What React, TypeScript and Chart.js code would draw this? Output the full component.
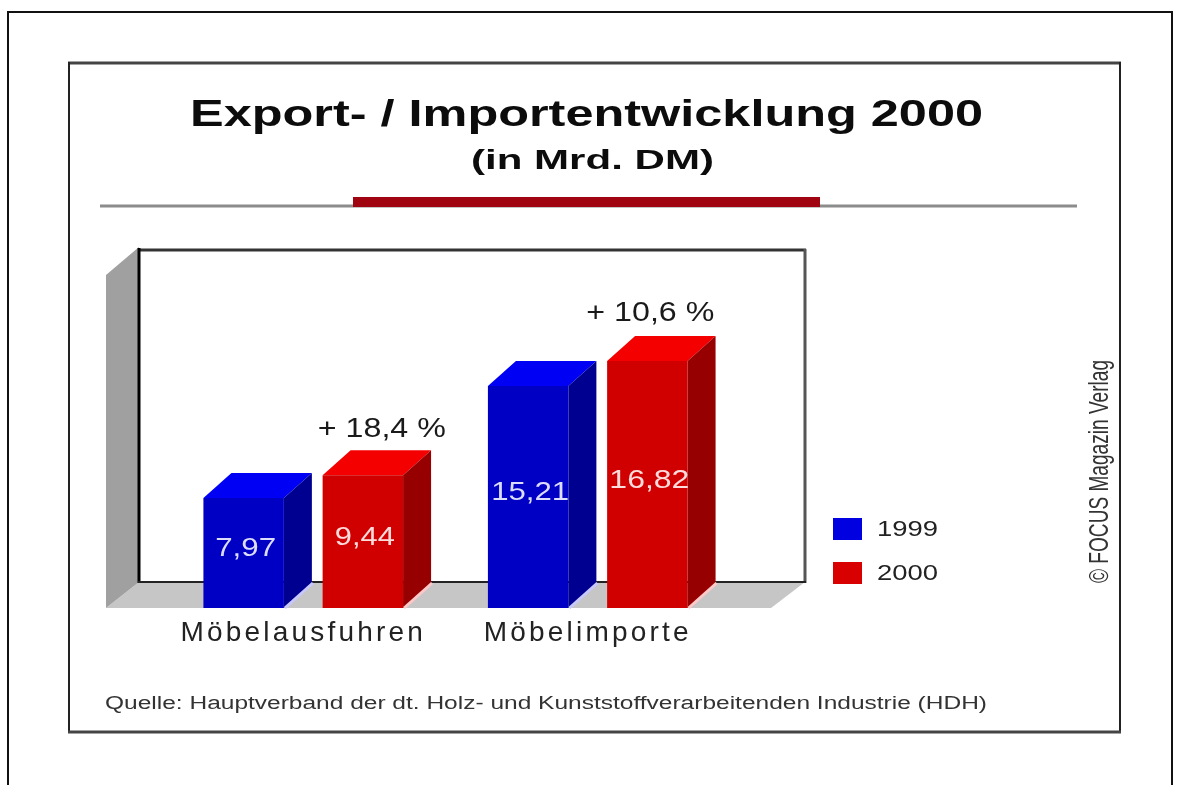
import React, { useEffect, useRef } from "react";
import { Chart, registerables } from "chart.js";

Chart.register(...registerables);

const categories = ["Möbelausfuhren", "Möbelimporte"];
const series1999 = [7.97, 15.21];
const series2000 = [9.44, 16.82];
const changeLabels = ["+ 18,4 %", "+ 10,6 %"];
const years = ["1999", "2000"];
const titleText = "Export- / Importentwicklung 2000";
const subtitleText = "(in Mrd. DM)";
const sourceText = "Quelle: Hauptverband der dt. Holz- und Kunststoffverarbeitenden Industrie (HDH)";
const creditText = "© FOCUS Magazin Verlag";

const SANS = '"Liberation Sans", Arial, sans-serif';
const DEPTH_X = 28;
const DEPTH_Y = 25;

function fitText(ctx: any, text: string, left: number, midY: number, width: number, font: string, color: string) {
  ctx.save();
  ctx.letterSpacing = "0px";
  ctx.font = font;
  ctx.fillStyle = color;
  ctx.textAlign = "left";
  ctx.textBaseline = "middle";
  const w = ctx.measureText(text).width;
  ctx.translate(left, midY);
  ctx.scale(width / w, 1);
  ctx.fillText(text, 0, 0);
  ctx.restore();
}

function poly(ctx: any, pts: number[][], fill: any) {
  ctx.beginPath();
  pts.forEach((p, i) => (i ? ctx.lineTo(p[0], p[1]) : ctx.moveTo(p[0], p[1])));
  ctx.closePath();
  ctx.fillStyle = fill;
  ctx.fill();
}

function rule(ctx: any, x1: number, y1: number, x2: number, y2: number, w: number, color: string) {
  ctx.beginPath();
  ctx.moveTo(x1, y1);
  ctx.lineTo(x2, y2);
  ctx.lineWidth = w;
  ctx.strokeStyle = color;
  ctx.stroke();
}

const decorPlugin = {
  id: "decor",
  beforeDraw(chart: any) {
    const ctx = chart.ctx;
    ctx.save();
    // page and panel frames
    rule(ctx, 8, 785, 8, 12, 2, "#111");
    rule(ctx, 7, 12, 1173, 12, 2, "#111");
    rule(ctx, 1172, 12, 1172, 785, 2, "#111");
    rule(ctx, 68, 63, 1121, 63, 3, "#444");
    rule(ctx, 69, 62, 69, 733, 2, "#222");
    rule(ctx, 1120, 62, 1120, 733, 2, "#222");
    rule(ctx, 68, 732, 1121, 732, 3, "#444");
    // header rule
    rule(ctx, 100, 206, 1077, 206, 3, "#8c8c8c");
    ctx.fillStyle = "#a00410";
    ctx.fillRect(353, 197, 467, 10);
    // 3D room
    poly(ctx, [[106, 608], [771, 608], [805, 582], [139, 582]], "#c6c6c6");
    poly(ctx, [[106, 275], [139, 247], [139, 582], [106, 608]], "#a0a0a0");
    rule(ctx, 138, 250, 806, 250, 3, "#333");
    rule(ctx, 139, 248, 139, 583, 3, "#000");
    rule(ctx, 805, 249, 805, 583, 3, "#555");
    rule(ctx, 138, 582, 806, 582, 2, "#222");
    ctx.restore();
  },
  beforeDatasetsDraw(chart: any) {
    const ctx = chart.ctx;
    const b = chart.chartArea.bottom;
    const faces = [
      { top: "#0000f4", side: "#000090", halo: "#c8c8ff" },
      { top: "#f40000", side: "#960000", halo: "#ffc8c8" },
    ];
    chart.data.datasets.forEach((_: any, d: number) => {
      chart.getDatasetMeta(d).data.forEach((bar: any) => {
        const l = bar.x - bar.width / 2;
        const r = bar.x + bar.width / 2;
        const t = bar.y;
        const f = faces[d];
        poly(ctx, [[l, t], [l + DEPTH_X, t - DEPTH_Y], [r + DEPTH_X, t - DEPTH_Y], [r, t]], f.top);
        poly(ctx, [[r, t], [r + DEPTH_X, t - DEPTH_Y], [r + DEPTH_X, b - DEPTH_Y], [r, b]], f.side);
        rule(ctx, r + 1, b, r + DEPTH_X + 1, b - DEPTH_Y, 3, f.halo);
      });
    });
  },
  afterDatasetsDraw(chart: any) {
    const ctx = chart.ctx;
    const b = chart.chartArea.bottom;
    ctx.save();
    // values on the bar fronts
    const valueWidths = [[61, 78], [60, 80]];
    chart.data.datasets.forEach((ds: any, d: number) => {
      chart.getDatasetMeta(d).data.forEach((bar: any, i: number) => {
        const label = ds.data[i].toFixed(2).replace(".", ",");
        const w = valueWidths[d][i];
        const mid = (bar.y + b) / 2 - 4;
        fitText(ctx, label, bar.x - w / 2 + 2, mid, w, `26px ${SANS}`, d ? "#ffdcdc" : "#dcdcff");
      });
    });
    // percentage change over the 2000 bars
    const changeOffsets = [[-45, -21], [-61, -23]];
    chart.getDatasetMeta(1).data.forEach((bar: any, i: number) => {
      const [dx, dy] = changeOffsets[i];
      fitText(ctx, changeLabels[i], bar.x + dx, bar.y - DEPTH_Y + dy, 128, `27px ${SANS}`, "#1a1a1a");
    });
    // titles and notes
    fitText(ctx, titleText, 190, 116, 793, `bold 37px ${SANS}`, "#0c0c0c");
    fitText(ctx, subtitleText, 471, 162, 243, `bold 27px ${SANS}`, "#0c0c0c");
    fitText(ctx, sourceText, 105, 704, 882, `18px ${SANS}`, "#333");
    // legend
    const colors = ["#0000e0", "#d80000"];
    years.forEach((y, i) => {
      const top = i ? 562 : 518;
      ctx.fillStyle = colors[i];
      ctx.fillRect(833, top, 29, 22);
      fitText(ctx, y, 877, top + 12, 61, `22px ${SANS}`, "#222");
    });
    // credit
    ctx.save();
    ctx.translate(1101, 583);
    ctx.rotate(-Math.PI / 2);
    fitText(ctx, creditText, 0, 0, 223, `27px ${SANS}`, "#333");
    ctx.restore();
    ctx.restore();
    ctx.letterSpacing = "0px";
  },
};

const spacingPlugin = {
  id: "spacing",
  beforeDraw(chart: any) {
    chart.ctx.letterSpacing = "3.2px";
  },
};

export default function App() {
  const ref = useRef<HTMLCanvasElement>(null);
  useEffect(() => {
    if (!ref.current) return;
    const chart = new Chart(ref.current, {
      type: "bar",
      data: {
        labels: categories,
        datasets: [
          { label: years[0], data: series1999, backgroundColor: "#0000c4", barPercentage: 0.675, categoryPercentage: 0.838 },
          { label: years[1], data: series2000, backgroundColor: "#d00000", barPercentage: 0.675, categoryPercentage: 0.838 },
        ],
      },
      options: {
        animation: false,
        responsive: false,
        layout: { padding: { left: 161, right: 451, top: 275, bottom: 130 } },
        plugins: { legend: { display: false }, title: { display: false }, tooltip: { enabled: false } },
        scales: {
          x: {
            grid: { display: false },
            border: { display: false },
            afterFit: (s: any) => { s.height = 47; },
            ticks: { color: "#222", font: { family: "Liberation Sans", size: 28 }, padding: 0, maxRotation: 0 },
          },
          y: { display: false, min: 0.87, max: 22.38 },
        },
      },
      plugins: [spacingPlugin, decorPlugin],
    } as any);
    return () => chart.destroy();
  }, []);
  return (
    <div style={{ position: "absolute", left: 0, top: 0, width: 1181, height: 785, background: "#fff" }}>
      <canvas ref={ref} width={1181} height={785} style={{ display: "block", width: 1181, height: 785, filter: "blur(0.6px)" }} />
    </div>
  );
}
